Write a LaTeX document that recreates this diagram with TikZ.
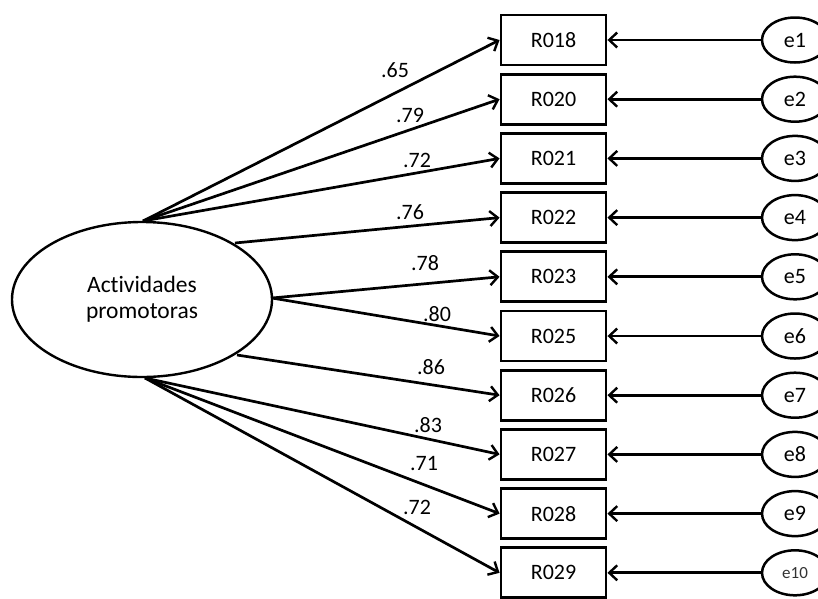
\documentclass[tikz,border=0pt]{standalone}
\usepackage{fontspec}
\setmainfont{Carlito}[Ligatures=NoCommon]
\usetikzlibrary{arrows.meta,shapes.geometric}
\begin{document}
\begin{tikzpicture}[x=1pt,y=-1pt,
  every node/.style={font=\fontsize{22}{26}\selectfont},
  item/.style={draw,line width=2.9pt,minimum width=105pt,minimum height=50pt,inner sep=0pt},
  err/.style={draw,ellipse,line width=2.5pt,minimum width=66pt,minimum height=45pt,inner sep=0pt},
  latent/.style={draw,ellipse,line width=2.4pt,minimum width=260pt,minimum height=155pt,inner sep=0pt,align=center,
                 font=\fontsize{23.5}{26}\selectfont},
  load/.style={line width=2.7pt,-{Straight Barb[length=8pt,width=15pt,line width=2.4pt]}},
  coef/.style={inner sep=0pt}
]
\useasboundingbox (0,0) rectangle (818,598);

% latent factor
\node[latent] (lat) at (142,299.5) {Actividades\\promotoras};

% observed items and their error terms
\foreach \name/\y/\e in {R018/40/e1,R020/99.2/e2,R021/158.4/e3,R022/217.6/e4,R023/276.8/e5,
                         R025/336/e6,R026/395.2/e7,R027/454.4/e8,R028/513.6/e9}{
  \node[item] (\name) at (553.5,\y) {\name};
  \node[err] (\e) at (795,\y) {\e};
  \draw[load] (\e) -- (\name);
}
\node[item] (R029) at (553.5,572.8) {R029};
\node[err,font=\fontsize{17}{18}\selectfont,text=black!80] (e10) at (795,572.8) {e10};
\draw[load] (e10) -- (R029);

% start points on the factor ellipse
\coordinate (top) at (143,221);
\coordinate (bot) at (145,378);
\coordinate (r1) at (235,243);
\coordinate (r2) at (272,298);
\coordinate (r3) at (237,355);

% factor loadings
\draw[load] (top) -- (R018.west);
\draw[load] (top) -- (R020.west);
\draw[load] (top) -- (R021.west);
\draw[load] (r1) -- (R022.west);
\draw[load] (r2) -- (R023.west);
\draw[load] (r2) -- (R025.west);
\draw[load] (r3) -- (R026.west);
\draw[load] (bot) -- (R027.west);
\draw[load] (bot) -- (R028.west);
\draw[load] (bot) -- (R029.west);

% loading values
\node[coef] (c1) at (395,70) {.65};
\node[coef] (c2) at (410,115) {.79};
\node[coef] (c3) at (417,160) {.72};
\node[coef] (c4) at (410,212) {.76};
\node[coef] (c5) at (425,263) {.78};
\node[coef] (c6) at (437,314) {.80};
\node[coef] (c7) at (431,367) {.86};
\node[coef] (c8) at (428,425) {.83};
\node[coef] (c9) at (424,463) {.71};
\node[coef] (c10) at (417,507) {.72};
\end{tikzpicture}
\end{document}
